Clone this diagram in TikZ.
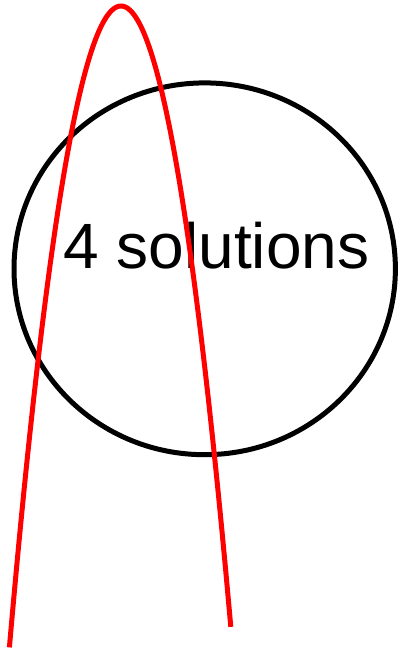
\documentclass[tikz,border=0pt]{standalone}
\usepackage{fontspec}
\setmainfont{Liberation Sans}
\usetikzlibrary{positioning}

\begin{document}
\begin{tikzpicture}[
  x=1pt, y=-1pt,
  ring/.style={draw=black, line width=5pt},
  curve/.style={draw=red, line width=5pt},
  label/.style={font=\fontsize{64}{72}\selectfont, anchor=base, inner sep=0pt}
]
\useasboundingbox (0,0) rectangle (405,649);

\draw[ring] (204.7,268.8) ellipse [x radius=190.7, y radius=185.9];

\node[label] (count) at (216.5,268) {4 solutions};

\draw[curve] plot[domain=-111.6:109.8, samples=120] ({121+\x},{6+0.0515*\x*\x});
\end{tikzpicture}
\end{document}
